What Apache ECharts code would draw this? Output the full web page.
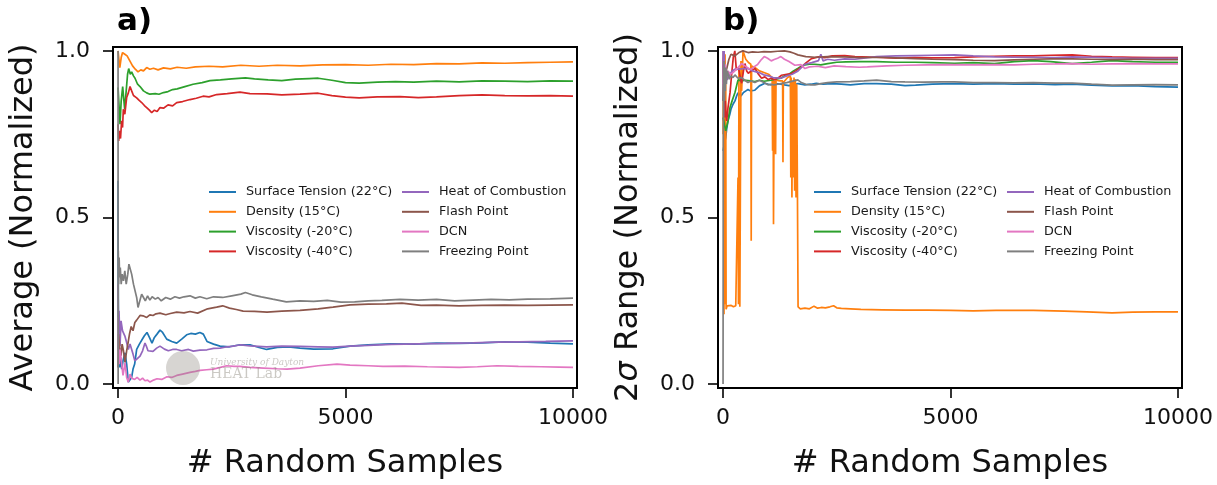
<!DOCTYPE html>
<html>
<head>
<meta charset="utf-8">
<script src="https://cdn.jsdelivr.net/npm/echarts@6.0.0/dist/echarts.min.js"></script>
<style>
  html, body { margin: 0; padding: 0; background: #fff; }
  #chart { width: 1217px; height: 485px; }
</style>
</head>
<body>
<div id="chart"></div>
<script>
// ---- data ----
const seriesNames = ['Surface Tension (22°C)', 'Density (15°C)', 'Viscosity (-20°C)', 'Viscosity (-40°C)',
  'Heat of Combustion', 'Flash Point', 'DCN', 'Freezing Point'];
const xTicks = [0, 5000, 10000];
const yTicks = [0, 0.5, 1.0];

// a) running average (normalized)
const avgSurface = [[1,0.61],[5,0.3],[10,0.1],[20,0.15],[35,0.05],[55,0.08],[81,0.045],[110,0.07],[154,0.094],[190,0.06],[227,0.006],[264,0.0],[300,0.02],[330,0.045],[366,0.06],[410,0.104],[470,0.12],[527,0.133],[580,0.145],[637,0.155],[690,0.14],[747,0.123],[800,0.14],[857,0.15],[923,0.162],[980,0.155],[1070,0.135],[1180,0.128],[1290,0.123],[1400,0.135],[1509,0.148],[1600,0.152],[1700,0.15],[1800,0.155],[1875,0.15],[1956,0.128],[2100,0.12],[2242,0.114],[2450,0.112],[2681,0.118],[2901,0.118],[3100,0.11],[3267,0.104],[3500,0.11],[3750,0.112],[4000,0.108],[4300,0.105],[4725,0.106],[5099,0.114],[5500,0.118],[6000,0.121],[6500,0.12],[7000,0.123],[7500,0.122],[8000,0.124],[8500,0.127],[9000,0.126],[9500,0.123],[10000,0.121]];
const avgDensity = [[1,1.0],[20,0.975],[40,0.95],[70,0.98],[100,0.995],[150,0.99],[200,0.985],[260,0.97],[320,0.955],[380,0.945],[440,0.937],[500,0.943],[560,0.94],[630,0.95],[700,0.945],[780,0.948],[880,0.943],[1000,0.949],[1150,0.946],[1300,0.951],[1500,0.948],[1700,0.952],[2000,0.954],[2300,0.952],[2700,0.957],[3100,0.954],[3500,0.957],[4000,0.955],[4500,0.958],[5000,0.959],[5500,0.957],[6000,0.96],[6500,0.959],[7000,0.962],[7500,0.961],[8000,0.964],[8500,0.963],[9000,0.965],[9500,0.966],[10000,0.967]];
const avgVisc20 = [[1,0.89],[25,0.83],[44,0.78],[70,0.85],[103,0.893],[130,0.85],[147,0.825],[180,0.88],[210,0.93],[235,0.947],[270,0.93],[300,0.937],[340,0.925],[374,0.918],[430,0.9],[484,0.893],[560,0.88],[630,0.874],[700,0.87],[740,0.867],[820,0.872],[900,0.87],[1000,0.875],[1100,0.878],[1200,0.884],[1300,0.886],[1450,0.892],[1650,0.9],[1850,0.905],[2022,0.911],[2250,0.913],[2500,0.916],[2800,0.919],[3000,0.916],[3300,0.913],[3600,0.911],[3900,0.915],[4200,0.917],[4400,0.918],[4700,0.912],[5000,0.905],[5300,0.903],[5700,0.906],[6100,0.908],[6500,0.906],[7000,0.909],[7500,0.907],[8000,0.91],[8500,0.909],[9000,0.908],[9500,0.91],[10000,0.909]];
const avgVisc40 = [[1,0.78],[15,0.73],[30,0.76],[55,0.737],[80,0.79],[100,0.77],[117,0.825],[150,0.81],[190,0.86],[227,0.874],[264,0.893],[300,0.88],[340,0.866],[410,0.859],[460,0.852],[520,0.845],[580,0.836],[630,0.83],[690,0.822],[740,0.815],[800,0.822],[860,0.818],[923,0.83],[1000,0.828],[1100,0.838],[1200,0.835],[1290,0.845],[1420,0.848],[1582,0.854],[1720,0.858],[1870,0.864],[2000,0.862],[2168,0.869],[2400,0.872],[2681,0.876],[2900,0.872],[3275,0.871],[3600,0.868],[4000,0.87],[4400,0.873],[4700,0.866],[5000,0.861],[5300,0.859],[5700,0.862],[6200,0.863],[6600,0.86],[7000,0.862],[7500,0.866],[8000,0.868],[8500,0.866],[9000,0.865],[9500,0.866],[10000,0.864]];
const avgHeat = [[1,0.3],[8,0.2],[22,0.22],[44,0.114],[66,0.19],[100,0.16],[154,0.143],[190,0.125],[227,0.104],[264,0.12],[330,0.09],[370,0.07],[410,0.064],[484,0.084],[540,0.1],[593,0.123],[620,0.115],[659,0.1],[769,0.098],[850,0.108],[923,0.114],[1020,0.105],[1106,0.1],[1200,0.104],[1290,0.104],[1400,0.1],[1550,0.104],[1656,0.099],[1800,0.102],[1956,0.103],[2100,0.107],[2242,0.108],[2400,0.112],[2535,0.114],[2700,0.118],[2900,0.115],[3267,0.112],[3600,0.114],[4000,0.113],[4400,0.112],[4725,0.111],[5100,0.114],[5500,0.116],[6000,0.119],[6600,0.121],[7200,0.122],[7800,0.124],[8300,0.126],[8800,0.127],[9400,0.128],[10000,0.13]];
const avgFlash = [[1,0.05],[10,0.15],[22,0.133],[44,0.1],[66,0.085],[90,0.12],[120,0.1],[154,0.065],[190,0.1],[220,0.123],[255,0.152],[290,0.173],[330,0.16],[370,0.185],[410,0.192],[484,0.206],[550,0.205],[630,0.2],[700,0.208],[770,0.206],[835,0.211],[923,0.213],[1050,0.208],[1150,0.212],[1290,0.216],[1450,0.214],[1582,0.218],[1750,0.213],[1970,0.226],[2168,0.231],[2300,0.235],[2450,0.228],[2600,0.224],[2750,0.219],[3000,0.218],[3275,0.216],[3600,0.219],[4000,0.221],[4400,0.226],[4725,0.231],[5100,0.238],[5500,0.24],[5900,0.241],[6240,0.243],[6660,0.236],[7000,0.237],[7500,0.235],[8000,0.236],[8500,0.237],[9000,0.236],[9500,0.237],[10000,0.238]];
const avgDCN = [[1,0.2],[10,0.08],[25,0.06],[44,0.104],[70,0.075],[110,0.026],[154,0.064],[190,0.02],[227,0.006],[264,0.03],[300,0.018],[366,0.014],[420,0.02],[484,0.012],[540,0.018],[593,0.01],[650,0.012],[703,0.006],[780,0.012],[857,0.016],[960,0.014],[1077,0.022],[1180,0.02],[1290,0.026],[1420,0.03],[1582,0.035],[1700,0.038],[1802,0.041],[1950,0.043],[2095,0.045],[2250,0.05],[2388,0.055],[2550,0.053],[2681,0.053],[2900,0.05],[3200,0.048],[3500,0.046],[3714,0.045],[4000,0.048],[4400,0.055],[4813,0.06],[5100,0.057],[5500,0.055],[5824,0.053],[6300,0.054],[6800,0.052],[7500,0.05],[7900,0.052],[8330,0.055],[8800,0.053],[9300,0.052],[9700,0.051],[10000,0.05]];
const avgFreezing = [[1,1.0],[3,0.0],[6,0.4],[15,0.3],[25,0.38],[35,0.32],[50,0.35],[70,0.3],[90,0.33],[120,0.31],[150,0.34],[180,0.3],[215,0.33],[240,0.36],[264,0.365],[300,0.33],[340,0.3],[374,0.3],[410,0.26],[440,0.23],[480,0.25],[520,0.27],[560,0.26],[600,0.25],[650,0.265],[700,0.252],[750,0.262],[820,0.255],[880,0.26],[950,0.25],[1050,0.26],[1150,0.255],[1250,0.262],[1350,0.258],[1450,0.262],[1582,0.265],[1700,0.258],[1800,0.262],[1950,0.256],[2100,0.262],[2300,0.26],[2500,0.265],[2700,0.27],[2800,0.275],[2950,0.268],[3150,0.262],[3400,0.255],[3700,0.247],[4000,0.25],[4300,0.248],[4600,0.251],[4900,0.246],[5200,0.247],[5500,0.25],[5800,0.251],[6200,0.254],[6600,0.252],[7000,0.254],[7400,0.25],[7800,0.252],[8200,0.254],[8600,0.253],[9000,0.255],[9500,0.256],[10000,0.258]];

// b) 2-sigma range (normalized)
const rngSurface = [[1,0.7],[30,0.72],[60,0.74],[81,0.766],[110,0.79],[150,0.81],[175,0.825],[220,0.84],[263,0.85],[300,0.865],[329,0.874],[370,0.868],[395,0.865],[450,0.875],[504,0.88],[548,0.884],[600,0.88],[700,0.882],[800,0.895],[921,0.903],[1000,0.9],[1060,0.898],[1150,0.902],[1272,0.9],[1350,0.898],[1450,0.896],[1550,0.898],[1650,0.902],[1800,0.898],[1930,0.9],[2050,0.903],[2200,0.9],[2400,0.902],[2600,0.9],[2800,0.898],[3100,0.902],[3377,0.902],[3700,0.9],[4000,0.896],[4232,0.897],[4600,0.9],[5088,0.902],[5500,0.9],[5965,0.902],[6400,0.9],[6820,0.901],[7300,0.899],[7675,0.9],[8100,0.897],[8553,0.895],[9000,0.896],[9500,0.893],[10000,0.891]];
const rngDensity = [[1,0.75],[8,0.98],[15,0.6],[22,0.21],[30,0.95],[38,0.45],[45,0.99],[52,0.24],[60,0.9],[68,0.225],[90,0.235],[130,0.23],[180,0.236],[230,0.232],[280,0.235],[320,0.232],[330,0.62],[340,0.24],[350,0.95],[360,0.36],[370,0.232],[385,0.233],[395,0.97],[410,0.88],[440,1.0],[500,0.975],[560,0.965],[612,0.96],[620,0.43],[628,0.955],[700,0.95],[800,0.94],[900,0.935],[1000,0.93],[1080,0.92],[1090,0.7],[1100,0.915],[1110,0.48],[1118,0.7],[1126,0.91],[1136,0.72],[1146,0.91],[1156,0.69],[1165,0.912],[1250,0.91],[1310,0.91],[1318,0.666],[1326,0.905],[1420,0.92],[1480,0.925],[1490,0.62],[1500,0.92],[1515,0.56],[1530,0.91],[1545,0.62],[1560,0.92],[1575,0.58],[1590,0.915],[1605,0.56],[1620,0.9],[1635,0.6],[1650,0.232],[1700,0.226],[1800,0.228],[1900,0.226],[2000,0.234],[2080,0.228],[2160,0.23],[2250,0.229],[2350,0.232],[2430,0.235],[2500,0.229],[2600,0.227],[2800,0.226],[3030,0.224],[3500,0.223],[4000,0.222],[4500,0.222],[5000,0.221],[5500,0.22],[6000,0.221],[6820,0.221],[7500,0.219],[8000,0.217],[8550,0.214],[9000,0.216],[9500,0.217],[10000,0.217]];
const rngVisc20 = [[1,0.8],[30,0.78],[60,0.76],[88,0.757],[110,0.79],[154,0.83],[200,0.85],[263,0.875],[330,0.913],[400,0.91],[500,0.912],[600,0.91],[700,0.908],[800,0.912],[900,0.909],[1053,0.912],[1150,0.915],[1272,0.918],[1350,0.925],[1450,0.93],[1550,0.94],[1650,0.948],[1711,0.953],[1800,0.958],[1900,0.96],[2018,0.96],[2150,0.958],[2300,0.962],[2500,0.966],[2700,0.967],[3000,0.968],[3377,0.968],[3800,0.966],[4232,0.966],[4600,0.965],[5088,0.963],[5500,0.965],[5965,0.962],[6400,0.968],[6820,0.971],[7200,0.968],[7675,0.962],[8100,0.966],[8553,0.971],[9000,0.968],[9500,0.966],[10000,0.966]];
const rngVisc40 = [[1,0.9],[10,1.0],[20,0.95],[35,0.8],[50,0.85],[65,0.81],[81,0.79],[110,0.83],[154,0.874],[190,0.93],[226,0.981],[260,1.0],[293,0.943],[340,0.95],[380,0.92],[410,0.903],[450,0.94],[483,0.962],[520,0.94],[556,0.933],[620,0.94],[702,0.947],[780,0.93],[848,0.918],[920,0.922],[994,0.914],[1060,0.918],[1140,0.913],[1220,0.92],[1287,0.927],[1400,0.93],[1506,0.932],[1600,0.94],[1725,0.952],[1830,0.965],[1944,0.977],[2100,0.982],[2237,0.98],[2400,0.985],[2675,0.986],[2900,0.983],[3377,0.981],[3800,0.978],[4200,0.98],[4600,0.979],[5088,0.98],[5500,0.982],[5965,0.984],[6400,0.985],[6820,0.985],[7200,0.987],[7675,0.988],[8100,0.984],[8553,0.982],[9000,0.981],[9500,0.98],[10000,0.98]];
const rngHeat = [[1,1.0],[5,0.85],[10,0.97],[18,0.9],[25,1.0],[35,0.88],[50,0.93],[66,0.95],[90,0.913],[110,0.913],[150,0.93],[200,0.94],[263,0.945],[350,0.945],[450,0.947],[548,0.947],[650,0.94],[790,0.935],[900,0.928],[1000,0.925],[1100,0.92],[1272,0.918],[1400,0.925],[1520,0.93],[1650,0.94],[1800,0.96],[1950,0.965],[2100,0.971],[2150,0.99],[2200,0.97],[2300,0.975],[2450,0.972],[2675,0.976],[2900,0.975],[3377,0.983],[3800,0.985],[4232,0.986],[4600,0.987],[5088,0.988],[5500,0.985],[5965,0.982],[6400,0.981],[6820,0.981],[7300,0.98],[7675,0.982],[8100,0.981],[8553,0.979],[9000,0.978],[9500,0.978],[10000,0.978]];
const rngFlash = [[1,0.85],[20,0.9],[50,0.93],[88,0.95],[130,0.975],[175,0.99],[260,0.985],[350,0.995],[439,1.0],[550,0.995],[650,0.997],[770,0.996],[900,0.998],[1050,0.997],[1200,0.999],[1350,1.0],[1470,0.997],[1560,0.993],[1645,0.988],[1820,0.983],[2018,0.981],[2300,0.983],[2675,0.982],[3000,0.98],[3377,0.981],[3800,0.979],[4232,0.977],[4600,0.975],[5088,0.974],[5500,0.972],[5965,0.971],[6400,0.973],[6820,0.975],[7200,0.976],[7675,0.976],[8100,0.975],[8553,0.974],[9000,0.975],[9500,0.974],[10000,0.974]];
const rngDCN = [[1,0.9],[15,0.95],[30,0.93],[50,0.96],[70,0.92],[110,0.94],[160,0.93],[220,0.935],[263,0.937],[330,0.95],[410,0.962],[480,0.955],[560,0.948],[614,0.944],[680,0.952],[760,0.959],[830,0.972],[906,0.983],[980,0.978],[1060,0.97],[1125,0.974],[1200,0.978],[1272,0.983],[1350,0.975],[1450,0.968],[1579,0.957],[1711,0.959],[1800,0.947],[1900,0.952],[2077,0.954],[2250,0.95],[2442,0.955],[2700,0.953],[3000,0.951],[3173,0.952],[3600,0.955],[4000,0.957],[4500,0.958],[5000,0.959],[5500,0.958],[5965,0.959],[6400,0.958],[6820,0.96],[7300,0.961],[7675,0.962],[8100,0.96],[8553,0.961],[9000,0.962],[9500,0.961],[10000,0.961]];
const rngFreezing = [[1,0.0],[5,0.6],[10,0.95],[15,0.8],[22,0.97],[30,0.85],[40,0.93],[50,0.88],[60,0.95],[75,0.9],[90,0.94],[110,0.933],[140,0.915],[175,0.925],[219,0.92],[263,0.928],[329,0.918],[400,0.92],[480,0.912],[548,0.905],[614,0.91],[700,0.905],[800,0.912],[900,0.905],[987,0.898],[1053,0.9],[1118,0.898],[1200,0.9],[1272,0.902],[1400,0.905],[1550,0.91],[1645,0.913],[1720,0.905],[1820,0.9],[1930,0.898],[2018,0.898],[2150,0.902],[2300,0.905],[2500,0.907],[2800,0.908],[3100,0.91],[3377,0.912],[3700,0.908],[4000,0.907],[4400,0.906],[4800,0.907],[5088,0.907],[5500,0.905],[5965,0.905],[6400,0.904],[6820,0.905],[7300,0.903],[7675,0.903],[8100,0.9],[8553,0.897],[9000,0.898],[9500,0.899],[10000,0.898]];

const avgData = [avgSurface, avgDensity, avgVisc20, avgVisc40, avgHeat, avgFlash, avgDCN, avgFreezing];
const rngData = [rngSurface, rngDensity, rngVisc20, rngVisc40, rngHeat, rngFlash, rngDCN, rngFreezing];
const colors = ['#1f77b4', '#ff7f0e', '#2ca02c', '#d62728', '#9467bd', '#8c564b', '#e377c2', '#7f7f7f'];

const FONT = '"DejaVu Sans", sans-serif';
const panelLeft = [113, 718];

function xAxisFor(i) {
  return {
    type: 'value', gridIndex: i, min: -110, max: 10088,
    splitLine: { show: false },
    axisLine: { show: true, onZero: false, lineStyle: { color: '#000', width: 2 } },
    axisTick: { show: true, length: 10, customValues: xTicks, lineStyle: { color: '#000', width: 1.6 } },
    axisLabel: { customValues: xTicks, fontSize: 22, color: '#111', margin: 19, fontFamily: FONT,
      formatter: v => String(v) },
    name: '# Random Samples', nameLocation: 'middle', nameGap: 60,
    nameTextStyle: { fontSize: 32, color: '#111', fontFamily: FONT }
  };
}

function yAxisFor(i, name) {
  return {
    type: 'value', gridIndex: i, min: -0.0117, max: 1.0117,
    splitLine: { show: false },
    axisLine: { show: true, onZero: false, lineStyle: { color: '#000', width: 2 } },
    axisTick: { show: true, length: 10, customValues: yTicks, lineStyle: { color: '#000', width: 1.6 } },
    axisLabel: { customValues: yTicks, fontSize: 22, color: '#111', margin: 23, fontFamily: FONT,
      formatter: v => v.toFixed(1) },
    name: name, nameLocation: 'middle', nameRotate: 90, nameGap: 73,
    nameTextStyle: { fontSize: 32, color: '#111', fontFamily: FONT,
      rich: { s: { fontSize: 32, fontStyle: 'italic', color: '#111', fontFamily: FONT } } }
  };
}

function legendFor(left, names) {
  return {
    left: left, top: 185, orient: 'vertical', padding: 0, itemGap: 5.8,
    itemWidth: 27, itemHeight: 2, icon: 'rect', selectedMode: false,
    data: names,
    textStyle: { fontSize: 12.8, color: '#1a1a1a', fontFamily: FONT, lineHeight: 14, padding: [0, 0, 0, 5] }
  };
}

const series = [];
[avgData, rngData].forEach((set, p) => {
  set.forEach((d, k) => {
    series.push({
      type: 'line', name: seriesNames[k], xAxisIndex: p, yAxisIndex: p,
      data: d, showSymbol: false, symbol: 'none',
      itemStyle: { color: colors[k] },
      lineStyle: { color: colors[k], width: 1.7 }
    });
  });
});

const chart = echarts.init(document.getElementById('chart'));
chart.setOption({
  animation: false,
  color: colors,
  textStyle: { fontFamily: FONT },
  grid: panelLeft.map(l => ({ left: l, top: 47, width: 464, height: 349, show: true,
    borderColor: '#000', borderWidth: 2, backgroundColor: 'transparent' })),
  xAxis: [xAxisFor(0), xAxisFor(1)],
  yAxis: [yAxisFor(0, 'Average (Normalized)'), yAxisFor(1, '2{s|σ} Range (Normalized)')],
  legend: [
    legendFor(209, seriesNames.slice(0, 4)), legendFor(402, seriesNames.slice(4)),
    legendFor(814, seriesNames.slice(0, 4)), legendFor(1007, seriesNames.slice(4))
  ],
  graphic: [
    { type: 'text', left: 117, top: 6, style: { text: 'a)', font: 'bold 31px "DejaVu Sans"', fill: '#000' } },
    { type: 'text', left: 723, top: 6, style: { text: 'b)', font: 'bold 31px "DejaVu Sans"', fill: '#000' } },
    // faint lab watermark
    { type: 'circle', shape: { cx: 183, cy: 368, r: 17 }, style: { fill: 'rgba(140,135,125,0.35)' }, z: 100 },
    { type: 'text', left: 210, top: 358, z: 100,
      style: { text: 'University of Dayton', font: 'italic 9px "DejaVu Serif"', fill: 'rgba(140,135,125,0.45)' } },
    { type: 'text', left: 210, top: 367, z: 100,
      style: { text: 'HEAT Lab', font: '14px "DejaVu Serif"', fill: 'rgba(140,135,125,0.45)' } }
  ],
  series: series
});
</script>
</body>
</html>
